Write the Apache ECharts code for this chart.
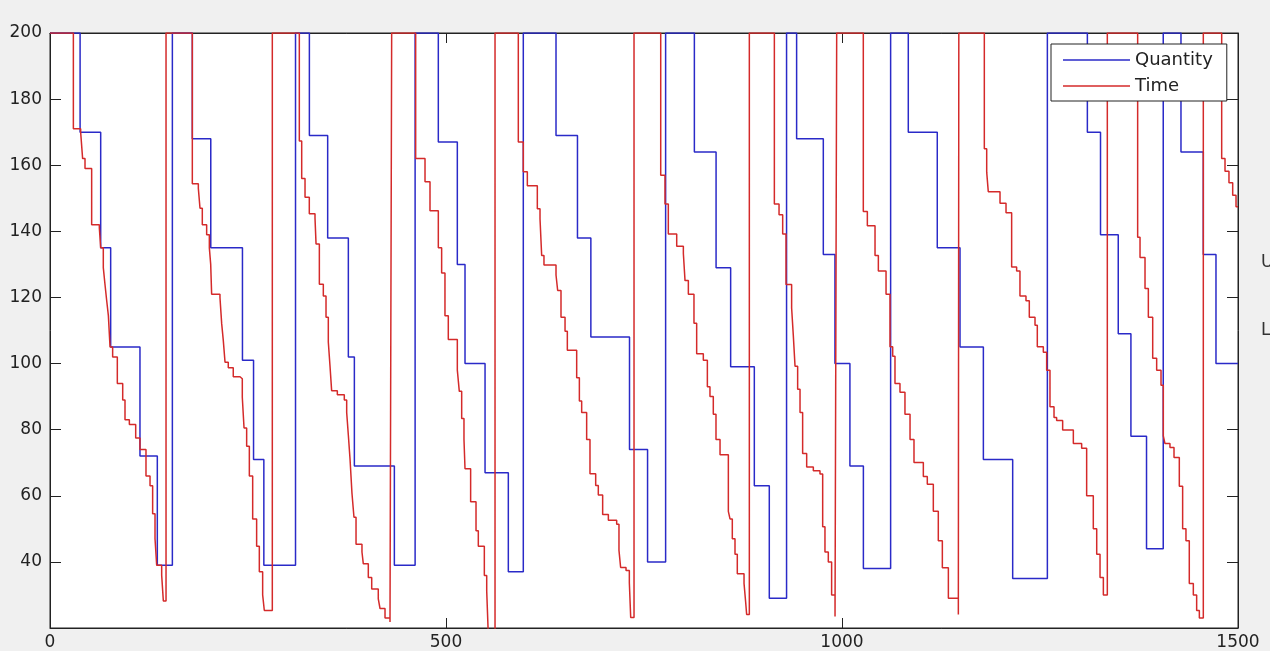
<!DOCTYPE html>
<html>
<head>
<meta charset="utf-8">
<script src="https://cdn.jsdelivr.net/npm/echarts@6/dist/echarts.min.js"></script>
<style>
html,body{margin:0;padding:0;background:#f0f0f0;}
#chart{width:1270px;height:651px;}
</style>
</head>
<body>
<div id="chart"></div>
<script>
// Tick labels
const xTicks = [0, 500, 1000, 1500];
const yTicks = [40, 60, 80, 100, 120, 140, 160, 180, 200];
const seriesNames = ['Quantity', 'Time'];
const sideLabels = ['U', 'L'];

// Quantity (blue step series): [x, level starting at x]
const quantityData = [
  [0,200],[38,170],[64,135],[76.6,105],[113.6,72],[135.5,39],[154.5,200],
  [179.7,168],[203,135],[243,101],[257,71],[270,39],[310,200],
  [327.5,169],[350.6,138],[376.7,102],[384.3,69],[434.8,39],[461,200],
  [490.3,167],[514.3,130],[524,100],[549.3,67],[578.7,37],[597.6,200],
  [638.9,169],[666,138],[682.9,108],[731.7,74],[754.5,40],[777.3,200],
  [813.6,164],[841,129],[859.4,99],[889.3,63],[908.2,29],[930,200],
  [942.7,168],[976.4,133],[991.1,100],[1010,69],[1027,38],[1061.4,200],
  [1083.7,170],[1120.3,135],[1149,105],[1178.5,71],[1215.5,35],[1259.3,200],
  [1309.8,170],[1326.4,139],[1348.8,109],[1364.8,78],[1384.5,44],[1405.6,200],
  [1428,164],[1456.2,133],[1472.2,100],[1500,100]
];

// Time (red step series): [x, level starting at x]
const timeData = [
  [0,200],[29.5,171],[38.7,170],[41.2,162],[44.2,159],[52.6,142],[62.3,141],[64,135],[67.3,129],[69.4,124],[71.6,119],[73.7,114.5],[75.8,105],[79.1,102],[85,94],[91.8,89],[94.7,83],[100.2,81.6],[108.2,77.5],[113.6,74],[121.2,66],[126.3,63],[129.6,54.6],[132.6,47],[134.7,39],[141,36],[143.1,28.2],[146.5,200],
  [179.7,154.4],[187.3,153],[189.4,147],[192.3,142],[197.8,139],[201.2,135],[202.9,130],[204.1,121],[214.6,120],[216.8,112],[218.8,107],[221,100.4],[225.1,98.7],[231.4,96],[239.9,95.4],[242.8,89.8],[245,80.5],[248.3,75],[251.7,66],[255.9,53],[260.9,44.7],[264.3,37],[268.5,30],[270.6,25.3],[280.7,200],
  [314.8,167.3],[317.8,156],[322,150.3],[327.4,145.3],[334.6,144],[335.9,136.2],[340.1,124],[345.1,120.4],[348.5,114],[351.4,106.5],[353.5,99.4],[355.6,91.8],[362.8,90.6],[371.6,89],[374.6,85.2],[376.7,78.3],[378.8,71.2],[381.3,60.7],[383.8,53.5],[386.4,45.3],[393.9,43],[395.6,39.4],[401.9,35.3],[406.2,31.8],[414.5,28.8],[416.7,25.9],[423,23],[429.3,21.8],[431.4,200],
  [461.7,162],[473.5,155],[479.8,146.2],[490.3,135],[494.5,127.4],[498.7,114.5],[502.9,107.3],[514.3,98],[516.8,91.6],[519.8,83.4],[522.7,77],[524,68.2],[531.1,58.2],[537.9,49.4],[540.8,44.7],[548.4,35.9],[551.4,31.2],[553.4,18],[561.9,200],
  [591.3,167],[597.6,158],[602.7,153.8],[615.3,146.8],[618.7,143.8],[620.8,132.7],[623.7,129.8],[638.9,126.8],[641,122.1],[645.2,114],[650.3,109.8],[653.2,104],[665,95.7],[668.4,88.7],[671.3,85.2],[677.6,77],[681.8,66.7],[689,63.1],[692.3,60.2],[697.8,54.3],[705,52.6],[715.5,51.4],[718.4,43.5],[720.5,38.3],[727.3,37.4],[731.5,33.7],[733.2,23.2],[737.4,200],
  [771.1,157],[776.5,148.3],[780.7,139.2],[791.3,135.5],[799.7,133.3],[801.8,125.1],[806,121],[813.1,112.2],[816.5,103],[824.9,101],[830,93],[833.3,90],[837.5,84.7],[840.9,77],[846,72.4],[856.5,55.3],[858.6,53],[861.5,47],[864.9,42.3],[867.8,36.4],[876.3,33.5],[878.4,27.7],[879.6,24.1],[883,200],
  [914.6,148.3],[920.5,145],[925.1,139.2],[929.3,123.9],[936.4,116.8],[938.5,108.6],[940.7,99.2],[944,92.2],[947,85.2],[950.3,72.8],[955.4,68.7],[963.8,67.6],[972.2,66.6],[975.6,50.6],[978.5,43],[982.7,40],[986.9,30],[991.2,23.5],[993.3,200],
  [1026.9,146],[1032,141.7],[1041.7,132.7],[1045.9,128],[1055.6,121],[1060.6,105.1],[1064,102.2],[1066.9,94],[1073.2,91.3],[1079.5,84.7],[1085.9,77],[1090.9,70.1],[1102.7,65.8],[1107.7,63.5],[1115.3,55.3],[1121.6,46.4],[1126.7,38.2],[1134.3,29],[1146.9,24.1],[1147.5,200],
  [1179.7,165],[1182.7,157.9],[1184.7,152],[1199.5,148.5],[1207.1,145.6],[1214.2,129.2],[1220.5,128],[1224.7,120.4],[1232.3,119],[1236.5,114],[1243.7,111.6],[1246.6,105.1],[1254.2,103.4],[1258.4,98],[1262.6,86.9],[1267.7,83.7],[1271,82.8],[1278.6,79.9],[1292.1,75.8],[1302.6,74.4],[1308.9,60],[1317.3,50],[1321.6,42.3],[1325.8,35.3],[1330,30],[1335,200],
  [1373.3,138.2],[1376.3,132.1],[1382.6,122.7],[1386.8,114],[1392.3,101.6],[1397.3,98],[1402.8,93.4],[1405.7,78.1],[1407.8,75.8],[1414.1,74.6],[1419.2,71.6],[1425.9,62.9],[1430.1,50],[1434.3,46.4],[1438.5,33.5],[1443.6,30],[1447.8,25.3],[1451.2,23],[1456.2,200],
  [1479.4,162],[1483.6,158.2],[1488.6,154.7],[1493.3,150.9],[1497.5,147.4],[1500,147.4]
];

const FONT = 'DejaVu Sans';
const AXIS_COLOR = '#222';
const BLUE = '#2a2ac8';
const RED = '#d42a2a';
const chart = echarts.init(document.getElementById('chart'), null, {renderer: 'canvas'});

function xAxisCfg(pos, showLabel) {
  return {
    type: 'value', position: pos, min: xTicks[0], max: xTicks[xTicks.length - 1],
    interval: xTicks[1] - xTicks[0],
    axisLine: {show: true, onZero: false, lineStyle: {color: AXIS_COLOR, width: 1}},
    axisTick: {show: true, inside: true, length: 10, lineStyle: {color: AXIS_COLOR, width: 1}},
    axisLabel: {show: showLabel, fontFamily: FONT, fontSize: 17, color: '#222', margin: 6,
      formatter: v => String(v)},
    splitLine: {show: false}
  };
}
function yAxisCfg(pos, showLabel) {
  return {
    type: 'value', position: pos, min: 20, max: yTicks[yTicks.length - 1], interval: 20,
    axisLine: {show: true, onZero: false, lineStyle: {color: AXIS_COLOR, width: 1}},
    axisTick: {show: true, inside: true, length: 11, lineStyle: {color: AXIS_COLOR, width: 1}},
    axisLabel: {show: showLabel, fontFamily: FONT, fontSize: 17, color: '#222', margin: 8,
      formatter: v => (yTicks.indexOf(v) >= 0 ? String(v) : '')},
    splitLine: {show: false}
  };
}

chart.setOption({
  animation: false,
  backgroundColor: '#f0f0f0',
  grid: {left: 50, right: 32, top: 33, bottom: 23, show: true, backgroundColor: '#ffffff',
         borderColor: AXIS_COLOR, borderWidth: 1, containLabel: false},
  xAxis: [xAxisCfg('bottom', true), xAxisCfg('top', false)],
  yAxis: [yAxisCfg('left', true), yAxisCfg('right', false)],
  legend: {
    orient: 'vertical', left: 1051, top: 44,
    padding: [7, 14, 6, 12], itemGap: 8, itemWidth: 67, itemHeight: 1.5,
    icon: 'rect',
    backgroundColor: '#ffffff', borderColor: AXIS_COLOR, borderWidth: 1, borderRadius: 0,
    textStyle: {fontFamily: FONT, fontSize: 18, color: '#222', lineHeight: 14},
    data: [
      {name: seriesNames[0], itemStyle: {color: BLUE}},
      {name: seriesNames[1], itemStyle: {color: RED}}
    ]
  },
  graphic: [
    {type: 'text', left: 1261, top: 254, style: {text: sideLabels[0], font: '17px "DejaVu Sans"', fill: '#333'}},
    {type: 'text', left: 1261, top: 322, style: {text: sideLabels[1], font: '17px "DejaVu Sans"', fill: '#333'}}
  ],
  series: [
    {name: seriesNames[0], type: 'line', step: 'end', data: quantityData, symbol: 'none', showSymbol: false,
     clip: true, lineStyle: {color: BLUE, width: 1.5}, itemStyle: {color: BLUE}},
    {name: seriesNames[1], type: 'line', step: 'end', data: timeData, symbol: 'none', showSymbol: false,
     clip: true, lineStyle: {color: RED, width: 1.5}, itemStyle: {color: RED}}
  ]
});
</script>
</body>
</html>
